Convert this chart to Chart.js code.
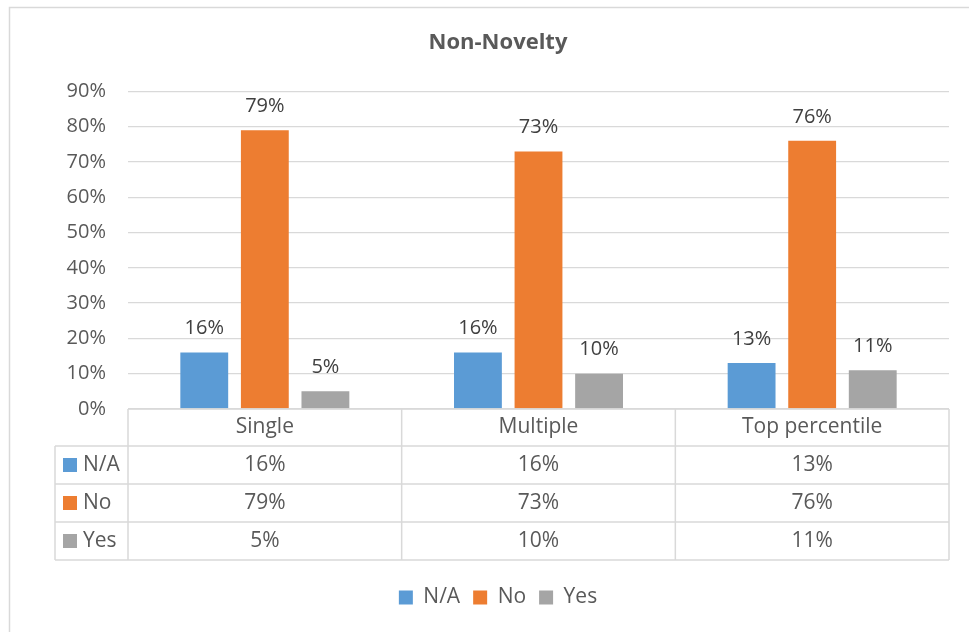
<!DOCTYPE html>
<html>
<head>
<meta charset="utf-8">
<title>Non-Novelty</title>
<script src="https://cdn.jsdelivr.net/npm/chart.js@4"></script>
<style>
  html, body { margin: 0; padding: 0; background: #fff; }
  #wrap { width: 969px; height: 632px; }
</style>
</head>
<body>
<div id="wrap"><canvas id="novChart" width="969" height="632"></canvas></div>
<script>
const categories = ['Single', 'Multiple', 'Top percentile'];
const seriesNames = ['N/A', 'No', 'Yes'];
const naValues = [16, 16, 13];
const noValues = [79, 73, 76];
const yesValues = [5, 10, 11];
const seriesColors = ['#5B9BD5', '#ED7D31', '#A5A5A5'];
const yMax = 90;
const yStep = 10;

const FONT = '"Open Sans", "Noto Sans", sans-serif';
const TEXT = '#595959';
const LINE = '#D9D9D9';

const pct = v => v + '%';

// value labels over the bars, the data table under the axis and the outer frame
const dataTablePlugin = {
  id: 'dataTable',
  beforeDraw(chart) {
    const ctx = chart.ctx;
    ctx.save();
    ctx.strokeStyle = LINE;
    ctx.lineWidth = 1.5;
    ctx.strokeRect(9.5, 7.5, chart.width + 20, chart.height + 20);
    ctx.restore();
  },
  afterDatasetsDraw(chart) {
    const ctx = chart.ctx;
    ctx.save();
    ctx.font = '20px ' + FONT;
    ctx.fillStyle = '#404040';
    ctx.textAlign = 'center';
    ctx.textBaseline = 'middle';
    chart.data.datasets.forEach((ds, di) => {
      chart.getDatasetMeta(di).data.forEach((bar, i) => {
        ctx.fillText(pct(ds.data[i]), bar.x, bar.y - 24);
      });
    });
    ctx.restore();
  },
  afterDraw(chart) {
    const ctx = chart.ctx;
    const x = chart.scales.x;
    const area = chart.chartArea;
    const colW = (x.right - x.left) / categories.length;
    const top = area.bottom;
    const headH = 37;
    const rowH = 38;
    const labelLeft = 55;
    const bottom = top + headH + rowH * seriesNames.length;

    ctx.save();
    ctx.strokeStyle = LINE;
    ctx.lineWidth = 1.5;
    const line = (x1, y1, x2, y2) => {
      ctx.beginPath();
      ctx.moveTo(x1, y1);
      ctx.lineTo(x2, y2);
      ctx.stroke();
    };
    line(x.left, top, x.right, top);
    for (let r = 0; r <= seriesNames.length; r++) {
      const y = top + headH + r * rowH;
      line(labelLeft, y, x.right, y);
    }
    line(labelLeft, top + headH, labelLeft, bottom);
    for (let i = 0; i <= categories.length; i++) {
      const xx = x.left + i * colW;
      line(xx, top, xx, bottom);
    }

    ctx.font = '21px ' + FONT;
    ctx.fillStyle = TEXT;
    ctx.textAlign = 'center';
    ctx.textBaseline = 'middle';
    categories.forEach((c, i) => {
      ctx.fillText(c, x.getPixelForValue(i), top + headH / 2);
    });

    chart.data.datasets.forEach((ds, di) => {
      const cy = top + headH + di * rowH + rowH / 2;
      ctx.fillStyle = seriesColors[di];
      ctx.fillRect(63, cy - 7, 14, 14);
      ctx.fillStyle = TEXT;
      ctx.textAlign = 'left';
      ctx.fillText(ds.label, 83, cy);
      ctx.textAlign = 'center';
      ds.data.forEach((v, i) => {
        ctx.fillText(pct(v), x.getPixelForValue(i), cy);
      });
    });
    ctx.restore();
  }
};

const ctx = document.getElementById('novChart').getContext('2d');
new Chart(ctx, {
  type: 'bar',
  data: {
    labels: categories,
    datasets: [
      { label: seriesNames[0], data: naValues, backgroundColor: seriesColors[0] },
      { label: seriesNames[1], data: noValues, backgroundColor: seriesColors[1] },
      { label: seriesNames[2], data: yesValues, backgroundColor: seriesColors[2] }
    ]
  },
  options: {
    responsive: false,
    animation: false,
    layout: { padding: { left: 47, right: 20, top: 0, bottom: 14 } },
    datasets: {
      bar: { categoryPercentage: 0.664, barPercentage: 0.79, borderWidth: 0 }
    },
    scales: {
      x: {
        ticks: { display: false },
        grid: { display: false },
        border: { display: false },
        afterFit: s => { s.height = 165; }
      },
      y: {
        min: 0,
        max: yMax,
        ticks: {
          stepSize: yStep,
          callback: v => pct(v),
          color: TEXT,
          font: { family: FONT, size: 20 },
          padding: 22
        },
        grid: { color: LINE, lineWidth: 1.3, drawTicks: false },
        border: { display: false },
        afterFit: s => { s.width = 128 - 47; }
      }
    },
    plugins: {
      title: {
        display: true,
        text: 'Non-Novelty',
        color: TEXT,
        font: { family: FONT, size: 22, weight: 'bold' },
        padding: { top: 30, bottom: 35 }
      },
      legend: {
        position: 'bottom',
        labels: {
          boxWidth: 14,
          boxHeight: 14,
          padding: 13,
          color: TEXT,
          font: { family: FONT, size: 21 }
        }
      },
      tooltip: { enabled: false }
    }
  },
  plugins: [dataTablePlugin]
});
</script>
</body>
</html>
